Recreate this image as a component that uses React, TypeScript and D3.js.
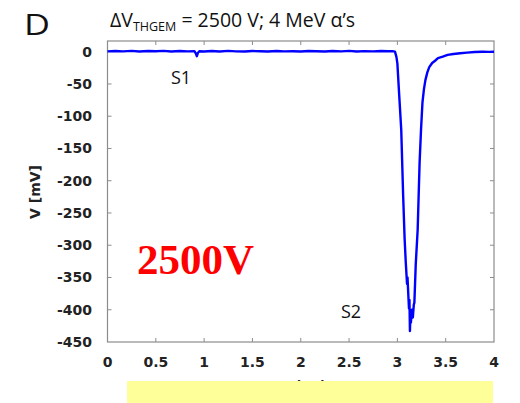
import React from "react";
import * as d3 from "d3";

const xTicks = [0, 0.5, 1, 1.5, 2, 2.5, 3, 3.5, 4];
const xTickLabels = ["0", "0.5", "1", "1.5", "2", "2.5", "3", "3.5", "4"];
const yTicks = [0, -50, -100, -150, -200, -250, -300, -350, -400, -450];

// time in microseconds
const signalT = [
  0, 0.08, 0.16, 0.25, 0.33, 0.42, 0.5, 0.58, 0.66, 0.75, 0.83, 0.9, 0.915, 0.925, 0.935, 0.95,
  1.0, 1.08, 1.16, 1.25, 1.33, 1.42, 1.5, 1.58, 1.66, 1.75, 1.83, 1.92, 2.0, 2.08, 2.16, 2.25,
  2.33, 2.42, 2.5, 2.58, 2.66, 2.75, 2.83, 2.9, 2.95, 2.975, 2.99, 3.0, 3.02, 3.04, 3.06, 3.075,
  3.087, 3.1, 3.105, 3.114, 3.12, 3.125, 3.13, 3.135, 3.14, 3.15, 3.16, 3.17, 3.176, 3.19, 3.21,
  3.23, 3.245, 3.26, 3.275, 3.29, 3.31, 3.33, 3.36, 3.39, 3.42, 3.47, 3.52, 3.58, 3.65, 3.72,
  3.8, 3.88, 3.95, 4.0,
];
// voltage in mV
const signalV = [
  0.5, 1, 0.5, 1.2, 0.3, 1, 0.6, 1.3, 0.4, 1, 0.5, 0.8, -3, -7, -2, 0.6,
  0.3, 1, 0.4, 1.2, 0.5, 0.2, 1, 0.6, 0.3, 1.1, 0.5, 0.8, 0.2, 1, 0.6, 0.3,
  1, 0.5, 1.2, 0.4, 0.9, 0.5, 1, 0.6, 0.8, 0.2, -8, -18, -70, -121, -224, -290,
  -327, -360, -350, -379, -398, -385, -433, -405, -420, -400, -412, -392, -389, -330, -276,
  -172, -120, -78, -58, -44, -32, -24, -17.5, -14, -10, -7.7, -5, -3.5, -2.5, -1.5,
  -0.5, 0, -0.3, 0,
];

export default function App() {
  const left = 107.5;
  const right = 494;
  const top = 41;
  const bottom = 342;

  const x = d3.scaleLinear().domain([0, 4]).range([left, right]);
  const y = d3.scaleLinear().domain([-450, 0]).range([bottom, 51.7]);

  const pts: [number, number][] = signalT.map((t, i) => [t, signalV[i]]);
  const line = d3
    .line<[number, number]>()
    .x((d) => x(d[0]))
    .y((d) => y(d[1]));

  const tickFont = "'DejaVu Sans', Verdana, sans-serif";
  const textFont = "'Open Sans', 'Noto Sans', sans-serif";

  return (
    <svg width={520} height={403} style={{ position: "absolute", left: 0, top: 0 }}>
      <rect x={0} y={0} width={520} height={403} fill="#fff" />
      {/* x-axis label mostly hidden by yellow box */}
      <text
        x={305}
        y={391}
        textAnchor="middle"
        fontFamily={tickFont}
        fontWeight="bold"
        fontSize={14}
        fill="#222"
      >
        t (μs)
      </text>
      <rect x={127} y={381} width={366} height={22} fill="#FFFF99" />

      {/* panel letter and title */}
      <text x={24} y={35} fontFamily={textFont} fontSize={29} fill="#111" textLength={26} lengthAdjust="spacingAndGlyphs">
        D
      </text>
      <text x={110} y={27} fontFamily={textFont} fontSize={19.5} fill="#111">
        ΔV
        <tspan fontSize={12.5} dy={4}>
          THGEM
        </tspan>
        <tspan dy={-4}> = 2500 V; 4 MeV α’s</tspan>
      </text>

      {/* plot frame */}
      <rect x={left} y={top} width={right - left} height={bottom - top} fill="none" stroke="#8c8c8c" strokeWidth={1.2} />
      {xTicks.slice(1, -1).map((t) => (
        <g key={"xt" + t}>
          <line x1={x(t)} x2={x(t)} y1={bottom} y2={bottom - 4} stroke="#8c8c8c" strokeWidth={1} />
          <line x1={x(t)} x2={x(t)} y1={top} y2={top + 4} stroke="#8c8c8c" strokeWidth={1} />
        </g>
      ))}
      {yTicks.slice(1, -1).map((v) => (
        <g key={"yt" + v}>
          <line x1={left} x2={left + 4} y1={y(v)} y2={y(v)} stroke="#8c8c8c" strokeWidth={1} />
          <line x1={right} x2={right - 4} y1={y(v)} y2={y(v)} stroke="#8c8c8c" strokeWidth={1} />
        </g>
      ))}

      {xTicks.map((t, i) => (
        <text
          key={"xl" + t}
          x={x(t)}
          y={367}
          textAnchor="middle"
          fontFamily={tickFont}
          fontWeight="bold"
          fontSize={14}
          fill="#222"
        >
          {xTickLabels[i]}
        </text>
      ))}
      {yTicks.map((v) => (
        <text
          key={"yl" + v}
          x={92}
          y={y(v) + 5}
          textAnchor="end"
          fontFamily={tickFont}
          fontWeight="bold"
          fontSize={14}
          fill="#222"
        >
          {v}
        </text>
      ))}
      <text
        transform="translate(40,192) rotate(-90)"
        textAnchor="middle"
        fontFamily={tickFont}
        fontWeight="bold"
        fontSize={14}
        fill="#222"
      >
        V [mV]
      </text>

      {/* signal */}
      <path d={line(pts) || ""} fill="none" stroke="#0000ff" strokeWidth={2.4} strokeLinejoin="round" />

      {/* annotations */}
      <text x={171} y={84} fontFamily={textFont} fontSize={18} fill="#111">
        S1
      </text>
      <text x={341} y={318} fontFamily={textFont} fontSize={18} fill="#111">
        S2
      </text>
      <text
        x={137}
        y={274}
        fontFamily="'Liberation Serif', 'Times New Roman', serif"
        fontWeight="bold"
        fontSize={43}
        fill="#ff0000"
      >
        2500V
      </text>
    </svg>
  );
}
